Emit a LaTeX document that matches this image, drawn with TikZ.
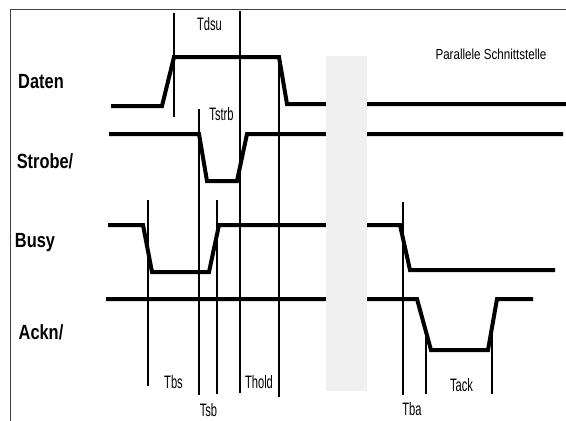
\documentclass[tikz,border=0pt]{standalone}
\usepackage{fontspec}
\setmainfont[FakeStretch=0.8]{Liberation Sans}
\newfontfamily\narrowfont[FakeStretch=0.62]{Liberation Sans}
\tikzset{
  signal/.style={line width=4pt, line join=miter},
  marker/.style={line width=1.1pt},
}
\begin{document}
\begin{tikzpicture}[x=1pt,y=-1pt]
        \useasboundingbox (0,0) rectangle (566,421);

        % frame
        \draw[line width=0.9pt, black!75] (10,421) -- (10,9) -- (566,9);

        % signals
        \draw[signal] (111,106) -- (162,106) -- (174,57) -- (279,57) -- (287,104) -- (566,104);
        \draw[signal] (109,134) -- (199,134) -- (207,181) -- (237,181) -- (247,134) -- (563,134);
        \draw[signal] (108,225) -- (143,225) -- (152,272) -- (209,272) -- (219,225)
                      -- (400,225) -- (410,270) -- (555,270);
        \draw[signal] (106,299) -- (417,299) -- (431,350) -- (488,350) -- (497,299) -- (533,299);

        % time gap
        \fill[black!6] (326,56) rectangle (367,391);

        % time markers
        \draw[marker] (148,200) -- (148,386);
        \draw[marker] (174,13)  -- (174,117);
        \draw[marker] (199,109) -- (199,395);
        \draw[marker] (217,200) -- (217,394);
        \draw[marker] (240,11)  -- (240,393);
        \draw[marker] (279,57)  -- (279,397);
        \draw[marker] (403,202) -- (403,395);
        \draw[marker] (426,328) -- (426,394);
        \draw[marker] (492,327) -- (492,394);

        \begin{scope}[every node/.style={font=\fontsize{20.5}{22}\selectfont\bfseries}]
          \node (daten)  at (41,82)  {Daten};
          \node (strobe) at (45,161) {Strobe/};
          \node (busy)   at (35,243) {Busy};
          \node (ackn)   at (41,332) {Ackn/};
        \end{scope}

        \begin{scope}[every node/.style={font=\narrowfont\fontsize{18}{20}\selectfont}]
          \node (tdsu)  at (209.5,24) {Tdsu};
          \node (tstrb) at (221.5,114) {Tstrb};
          \node (tbs)   at (173.5,382) {Tbs};
          \node (tsb)   at (208.5,410) {Tsb};
          \node (thold) at (259,382) {Thold};
          \node (tba)   at (412,409) {Tba};
          \node (tack)  at (461.5,385) {Tack};
        \end{scope}

        \node[font=\fontsize{14.5}{16}\selectfont] (title) at (491,54) {Parallele Schnittstelle};

      \end{tikzpicture}
\end{document}
